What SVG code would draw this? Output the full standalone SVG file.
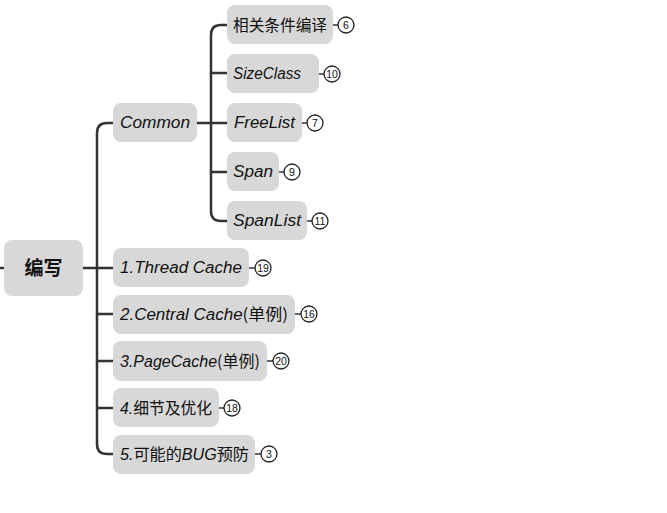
<svg xmlns="http://www.w3.org/2000/svg" width="667" height="513" viewBox="0 0 667 513">
<style>
.box{fill:#d8d8d8}
.t{font-family:"Liberation Sans","Noto Sans CJK SC",sans-serif;font-size:16px;font-style:italic;fill:#111}
.c{font-family:"Noto Sans CJK SC",sans-serif;font-style:normal}
.root{font-family:"Noto Sans CJK SC","Liberation Sans",sans-serif;font-size:19px;font-weight:bold;fill:#111}
.ln{fill:none;stroke:#333;stroke-width:2.5;stroke-linecap:round}
.bl{fill:none;stroke:#333;stroke-width:1.5}
.bc{fill:#fff;stroke:#222;stroke-width:1.3}
.bn{font-family:"Liberation Sans",sans-serif;font-size:10.5px;fill:#111;text-anchor:middle}
</style>
<rect width="667" height="513" fill="#fff"/>
<g id="connectors">
<path class="ln" d="M0 268H4"/>
<path class="ln" d="M83 268H113"/>
<path class="ln" d="M113 123H107Q97 123 97 133V444Q97 454 107 454H113"/>
<path class="ln" d="M97 314H113"/>
<path class="ln" d="M97 361H113"/>
<path class="ln" d="M97 408H113"/>
<path class="ln" d="M197 123H227"/>
<path class="ln" d="M227 25H221Q211 25 211 35V211Q211 221 221 221H227"/>
<path class="ln" d="M211 73H227"/>
<path class="ln" d="M211 172H227"/>
</g>
<g id="root"><rect class="box" x="4" y="240" width="79" height="56" rx="8"/><text class="root" x="43.5" y="275" text-anchor="middle">编写</text></g>
<g id="common"><rect class="box" x="113" y="103" width="84" height="39" rx="8"/><text class="t" x="120" y="128" textLength="70" lengthAdjust="spacingAndGlyphs">Common</text></g>
<g id="n1"><rect class="box" x="227" y="5" width="106" height="39" rx="8"/><text class="t c" x="233" y="31" textLength="94" lengthAdjust="spacingAndGlyphs">相关条件编译</text>
<path class="bl" d="M333 25H338"/><circle class="bc" cx="346" cy="25" r="8"/><text class="bn" x="346" y="28.5">6</text></g>
<g id="n2"><rect class="box" x="227" y="54" width="92" height="39" rx="8"/><text class="t" x="233" y="79" textLength="68" lengthAdjust="spacingAndGlyphs">SizeClass</text>
<path class="bl" d="M319 74H324"/><circle class="bc" cx="332" cy="74" r="8"/><text class="bn" x="332" y="77.5">10</text></g>
<g id="n3"><rect class="box" x="227" y="103" width="75" height="39" rx="8"/><text class="t" x="234" y="128" textLength="61" lengthAdjust="spacingAndGlyphs">FreeList</text>
<path class="bl" d="M302 123H307"/><circle class="bc" cx="315" cy="123" r="8"/><text class="bn" x="315" y="126.5">7</text></g>
<g id="n4"><rect class="box" x="227" y="152" width="52" height="39" rx="8"/><text class="t" x="233" y="177" textLength="40" lengthAdjust="spacingAndGlyphs">Span</text>
<path class="bl" d="M279 172H284"/><circle class="bc" cx="292" cy="172" r="8"/><text class="bn" x="292" y="175.5">9</text></g>
<g id="n5"><rect class="box" x="227" y="201" width="80" height="39" rx="8"/><text class="t" x="233" y="226" textLength="68" lengthAdjust="spacingAndGlyphs">SpanList</text>
<path class="bl" d="M307 221H312"/><circle class="bc" cx="320" cy="221" r="8"/><text class="bn" x="320" y="224.5">11</text></g>
<g id="m1"><rect class="box" x="113" y="248" width="136" height="39" rx="8"/><text class="t" x="120" y="273" textLength="122" lengthAdjust="spacingAndGlyphs">1.Thread Cache</text>
<path class="bl" d="M249 268H255"/><circle class="bc" cx="263" cy="268" r="8"/><text class="bn" x="263" y="271.5">19</text></g>
<g id="m2"><rect class="box" x="113" y="295" width="182" height="39" rx="8"/><text class="t" x="120" y="320" textLength="168" lengthAdjust="spacingAndGlyphs">2.Central Cache<tspan class="c">(单例)</tspan></text>
<path class="bl" d="M295 314H301"/><circle class="bc" cx="309" cy="314" r="8"/><text class="bn" x="309" y="317.5">16</text></g>
<g id="m3"><rect class="box" x="113" y="341" width="154" height="40" rx="8"/><text class="t" x="120" y="367" textLength="140" lengthAdjust="spacingAndGlyphs">3.PageCache<tspan class="c">(单例)</tspan></text>
<path class="bl" d="M267 361H273"/><circle class="bc" cx="281" cy="361" r="8"/><text class="bn" x="281" y="364.5">20</text></g>
<g id="m4"><rect class="box" x="113" y="388" width="106" height="39" rx="8"/><text class="t" x="120" y="414" textLength="92" lengthAdjust="spacingAndGlyphs">4.<tspan class="c">细节及优化</tspan></text>
<path class="bl" d="M219 408H224"/><circle class="bc" cx="232" cy="408" r="8"/><text class="bn" x="232" y="411.5">18</text></g>
<g id="m5"><rect class="box" x="113" y="435" width="142" height="39" rx="8"/><text class="t" x="120" y="460" textLength="129" lengthAdjust="spacingAndGlyphs">5.<tspan class="c">可能的</tspan>BUG<tspan class="c">预防</tspan></text>
<path class="bl" d="M255 454H261"/><circle class="bc" cx="269" cy="454" r="8"/><text class="bn" x="269" y="457.5">3</text></g>
</svg>
